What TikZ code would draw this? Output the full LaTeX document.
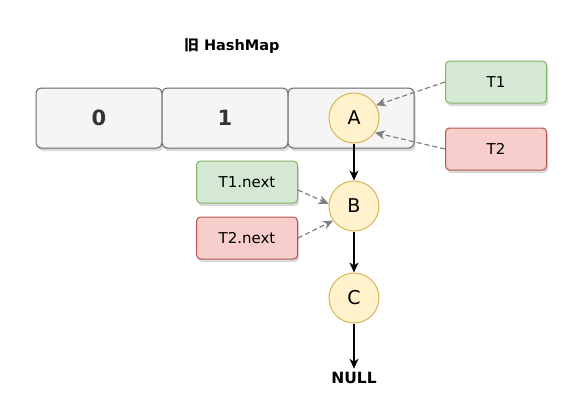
\documentclass[tikz,border=0pt]{standalone}
\usepackage{fontspec}
\setmainfont{DejaVu Sans}
\newfontfamily\cjk{Noto Sans CJK SC}
\usetikzlibrary{shadows,arrows.meta}
\definecolor{cellfill}{HTML}{F5F5F5}
\definecolor{celldraw}{HTML}{666666}
\definecolor{gfill}{HTML}{D5E8D4}
\definecolor{gdraw}{HTML}{82B366}
\definecolor{rfill}{HTML}{F8CECC}
\definecolor{rdraw}{HTML}{B85450}
\definecolor{yfill}{HTML}{FFF2CC}
\definecolor{ydraw}{HTML}{D6B656}
\definecolor{ptrgray}{HTML}{808080}
\begin{document}
\begin{tikzpicture}[x=1pt,y=-1pt,
  cell/.style={draw=celldraw,fill=cellfill,rounded corners=5pt,minimum width=126pt,minimum height=60pt,line width=1pt,
    drop shadow={shadow xshift=1.5pt,shadow yshift=-3pt,opacity=0.3},font=\fontsize{21}{24}\selectfont\bfseries,text=black!80,inner sep=0pt},
  tbox/.style={rounded corners=4pt,minimum width=101pt,minimum height=42pt,line width=1pt,
    drop shadow={shadow xshift=1.5pt,shadow yshift=-3pt,opacity=0.3},font=\fontsize{15}{18}\selectfont,inner sep=0pt},
  gbox/.style={tbox,draw=gdraw,fill=gfill},
  rbox/.style={tbox,draw=rdraw,fill=rfill},
  ent/.style={circle,draw=ydraw,fill=yfill,minimum size=50pt,inner sep=0pt,line width=1pt,font=\fontsize{19}{22}\selectfont},
  link/.style={-{Stealth[length=10pt,width=9pt,inset=3pt]},line width=1.2pt,black},
  ptr/.style={-{Stealth[length=10pt,width=9pt,inset=3pt]},dash pattern=on 5pt off 3pt,draw=ptrgray,line width=1.2pt}
]
\useasboundingbox (0,0) rectangle (579,410);
\node[font=\fontsize{14.5}{17}\selectfont\bfseries] (title) at (232,46) {{\cjk 旧} HashMap};
\node[cell] (c0) at (99,118) {0};
\node[cell] (c1) at (225,118) {1};
\node[cell] (c2) at (351,118) {};
\node[ent] (A) at (354,118) {A};
\node[ent] (B) at (354,206) {B};
\node[ent] (C) at (354,298) {C};
\node[font=\fontsize{15.5}{18}\selectfont\bfseries] (null) at (354,378) {NULL};
\node[gbox] (t1) at (496,82) {T1};
\node[rbox] (t2) at (496,149) {T2};
\node[gbox] (t1n) at (247,182) {T1.next};
\node[rbox] (t2n) at (247,238) {T2.next};
\draw[link] (A) -- (B);
\draw[link] (B) -- (C);
\draw[link] (C) -- (null.north);
\draw[ptr] (t1.west) -- (A.30);
\draw[ptr] (t2.west) -- (A.-35);
\draw[ptr] (t1n.east) ++(0,8) -- (B.175);
\draw[ptr] (t2n.east) -- (B.-145);
\end{tikzpicture}
\end{document}
